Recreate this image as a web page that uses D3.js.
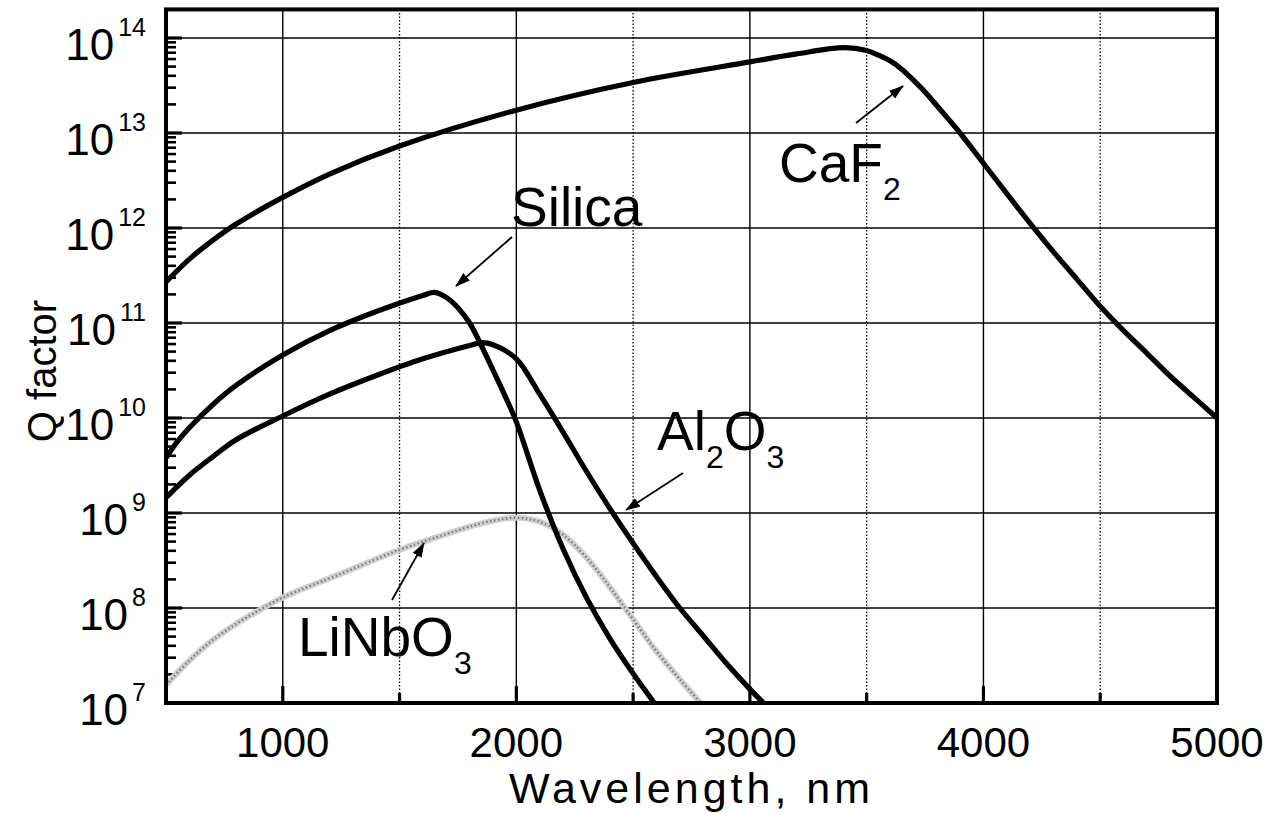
<!DOCTYPE html>
<html><head><meta charset="utf-8">
<script src="https://cdn.jsdelivr.net/npm/d3@7"></script>
<style>
body{margin:0;background:#fff}
svg{display:block}
text{font-family:"Liberation Sans",Arial,Helvetica,sans-serif;fill:#000}
</style>
</head><body>
<svg id="chart" width="1277" height="814"></svg>
<script>
// ---------- data (wavelength in nm, Q factor) ----------
const wlCaF2 = [500,600,700,800,1000,1200,1500,2000,2500,3000,3200,3400,3500,3550,3600,3650,3700,3750,3800,3850,3900,4000,4100,4200,4300,4400,4500,4600,4700,4800,4900,5000];
const qCaF2  = [2.7e11,4.7e11,7.4e11,1.1e12,2.1e12,3.7e12,7.3e12,1.74e13,3.4e13,5.6e13,6.8e13,7.9e13,7.4e13,6.6e13,5.75e13,4.7e13,3.6e13,2.7e13,1.95e13,1.4e13,1.0e13,4.8e12,2.3e12,1.12e12,5.6e11,2.9e11,1.5e11,8.3e10,4.8e10,2.75e10,1.66e10,1.0e10];

const wlSilica = [500,550,600,700,800,1000,1200,1400,1600,1650,1700,1750,1800,1850,1900,1950,2000,2100,2200,2300,2400,2500,2600];
const qSilica  = [3.8e9,5.7e9,7.9e9,1.38e10,2.2e10,4.6e10,8.3e10,1.32e11,1.95e11,2.1e11,1.86e11,1.45e11,1.0e11,5.8e10,3.2e10,1.74e10,9.1e9,1.74e9,4.2e8,1.29e8,4.8e7,2.04e7,9.3e6];

const wlAl2O3 = [500,600,700,800,1000,1200,1400,1600,1800,1850,1900,2000,2100,2200,2300,2400,2500,2600,2700,2800,2900,3000,3100];
const qAl2O3  = [1.45e9,2.5e9,3.9e9,5.9e9,1.05e10,1.78e10,2.8e10,4.2e10,5.8e10,6.2e10,5.9e10,4.2e10,1.78e10,7.1e9,2.75e9,1.12e9,4.8e8,2.14e8,1.0e8,5.1e7,2.6e7,1.4e7,7.9e6];

const wlLiNbO3 = [500,600,700,800,900,1000,1250,1500,1700,1800,1900,2000,2100,2200,2300,2400,2500,2600,2700,2800];
const qLiNbO3  = [1.55e7,2.8e7,4.6e7,6.8e7,9.5e7,1.29e8,2.3e8,4.1e8,6.0e8,7.2e8,8.3e8,8.9e8,8.1e8,5.9e8,3.4e8,1.66e8,7.6e7,3.5e7,1.78e7,9.3e6];

const xTickValues  = [1000,2000,3000,4000,5000];
const xTickLabels  = ["1000","2000","3000","4000","5000"];
const xMinorValues = [1500,2500,3500,4500];
const yExponents   = [7,8,9,10,11,12,13,14];

const xTitle = "Wavelength, nm";
const yTitle = "Q factor";

// ---------- layout ----------
const svg = d3.select("#chart");
const L = 166, R = 1217, T = 9.4, B = 703;
const x = d3.scaleLinear().domain([500,5000]).range([L,R]);
const y = d3.scaleLog().domain([1e7,2e14]).range([B,T]);

const defs = svg.append("defs");
defs.append("clipPath").attr("id","plotclip").append("rect")
  .attr("x",L).attr("y",T).attr("width",R-L).attr("height",B-T);
defs.append("marker").attr("id","arrow").attr("markerUnits","userSpaceOnUse")
  .attr("markerWidth",16).attr("markerHeight",12).attr("refX",14).attr("refY",5)
  .attr("orient","auto")
  .append("path").attr("d","M0,0 L15,5 L0,10 Z").attr("fill","#000");

// ---------- grid ----------
const grid = svg.append("g");
grid.selectAll("line.gx").data(xTickValues.filter(v=>v<5000)).join("line")
  .attr("x1",d=>x(d)).attr("x2",d=>x(d)).attr("y1",T).attr("y2",B)
  .attr("stroke","#000").attr("stroke-width",1.4);
grid.selectAll("line.gxm").data(xMinorValues).join("line")
  .attr("x1",d=>x(d)).attr("x2",d=>x(d)).attr("y1",T).attr("y2",B)
  .attr("stroke","#000").attr("stroke-width",1.3).attr("stroke-dasharray","1.5,2");
grid.selectAll("line.gy").data(yExponents.filter(e=>e>7)).join("line")
  .attr("x1",L).attr("x2",R).attr("y1",e=>y(Math.pow(10,e))).attr("y2",e=>y(Math.pow(10,e)))
  .attr("stroke","#000").attr("stroke-width",1.4);

// ---------- ticks (inward) ----------
const ticks = svg.append("g").attr("stroke","#000").attr("stroke-width",3.2);
xTickValues.filter(v=>v<5000).forEach(v=>{
  ticks.append("line").attr("x1",x(v)).attr("x2",x(v)).attr("y1",B).attr("y2",B-17);
});
xMinorValues.forEach(v=>{
  ticks.append("line").attr("x1",x(v)).attr("x2",x(v)).attr("y1",B).attr("y2",B-10);
});
yExponents.forEach(e=>{
  const base = Math.pow(10,e);
  ticks.append("line").attr("x1",L).attr("x2",L+16).attr("y1",y(base)).attr("y2",y(base));
  if (e < 14) {
    for (let m=2;m<=9;m++){
      const yy = y(m*base);
      ticks.append("line").attr("x1",L).attr("x2",L+10).attr("y1",yy).attr("y2",yy).attr("stroke-width",2.6);
    }
  }
});

// ---------- curves ----------
const line = d3.line().x(d=>x(d[0])).y(d=>y(d[1])).curve(d3.curveCatmullRom.alpha(0.5));
const plot = svg.append("g").attr("clip-path","url(#plotclip)");
const lin = wlLiNbO3.map((w,i)=>[w,qLiNbO3[i]]);
plot.append("path").attr("d",line(lin)).attr("fill","none").attr("stroke","#cfcfcf").attr("stroke-width",6);
plot.append("path").attr("d",line(lin)).attr("fill","none").attr("stroke","#7a7a7a").attr("stroke-width",2.4).attr("stroke-dasharray","1.5,2.5");
[[wlCaF2,qCaF2],[wlSilica,qSilica],[wlAl2O3,qAl2O3]].forEach(([w,q])=>{
  plot.append("path").attr("d",line(w.map((v,i)=>[v,q[i]])))
    .attr("fill","none").attr("stroke","#000").attr("stroke-width",5.2)
    .attr("stroke-linejoin","round").attr("stroke-linecap","round");
});

// ---------- frame ----------
svg.append("rect").attr("x",L).attr("y",T).attr("width",R-L).attr("height",B-T)
  .attr("fill","none").attr("stroke","#000").attr("stroke-width",4);

// ---------- tick labels ----------
const tl = svg.append("g");
xTickValues.forEach((v,i)=>{
  tl.append("text").attr("x",x(v)).attr("y",757).attr("text-anchor","middle")
    .attr("font-size",42).text(xTickLabels[i]);
});
yExponents.forEach(e=>{
  const gy = y(Math.pow(10,e));
  const ex = tl.append("text").attr("x",146).attr("y",gy-2).attr("text-anchor","end")
    .attr("font-size",25).text(String(e));
  const w = ex.node().getComputedTextLength();
  tl.append("text").attr("x",146-w-4).attr("y",gy+22).attr("text-anchor","end")
    .attr("font-size",44).text("10");
});

// ---------- axis titles ----------
svg.append("text").attr("x",(L+R)/2).attr("y",803).attr("text-anchor","middle")
  .attr("font-size",43).attr("letter-spacing",4).text(xTitle);
svg.append("text").attr("transform","translate(56,371) rotate(-90)").attr("text-anchor","middle")
  .attr("font-size",40).text(yTitle);

// ---------- curve labels ----------
function label(xp,yp,parts){
  const t = svg.append("text").attr("x",xp).attr("y",yp).attr("font-size",55);
  let shift = 0;
  parts.forEach(p=>{
    const s = t.append("tspan").text(p[0]);
    if (p[1]) { s.attr("font-size",32).attr("dy",18-shift); shift = 18; }
    else if (shift) { s.attr("dy",-shift); shift = 0; }
  });
}
label(779,182,[["CaF"],["2",1]]);
label(511,226,[["Silica"]]);
label(657,450,[["Al"],["2",1],["O"],["3",1]]);
label(298,656,[["LiNbO"],["3",1]]);

// ---------- arrows ----------
const arrows = [[856,123,903,86],[512,237,456,286],[683,473,626,510],[392,600,424,543]];
arrows.forEach(a=>{
  svg.append("line").attr("x1",a[0]).attr("y1",a[1]).attr("x2",a[2]).attr("y2",a[3])
    .attr("stroke","#000").attr("stroke-width",1.8).attr("marker-end","url(#arrow)");
});
</script>
</body></html>
